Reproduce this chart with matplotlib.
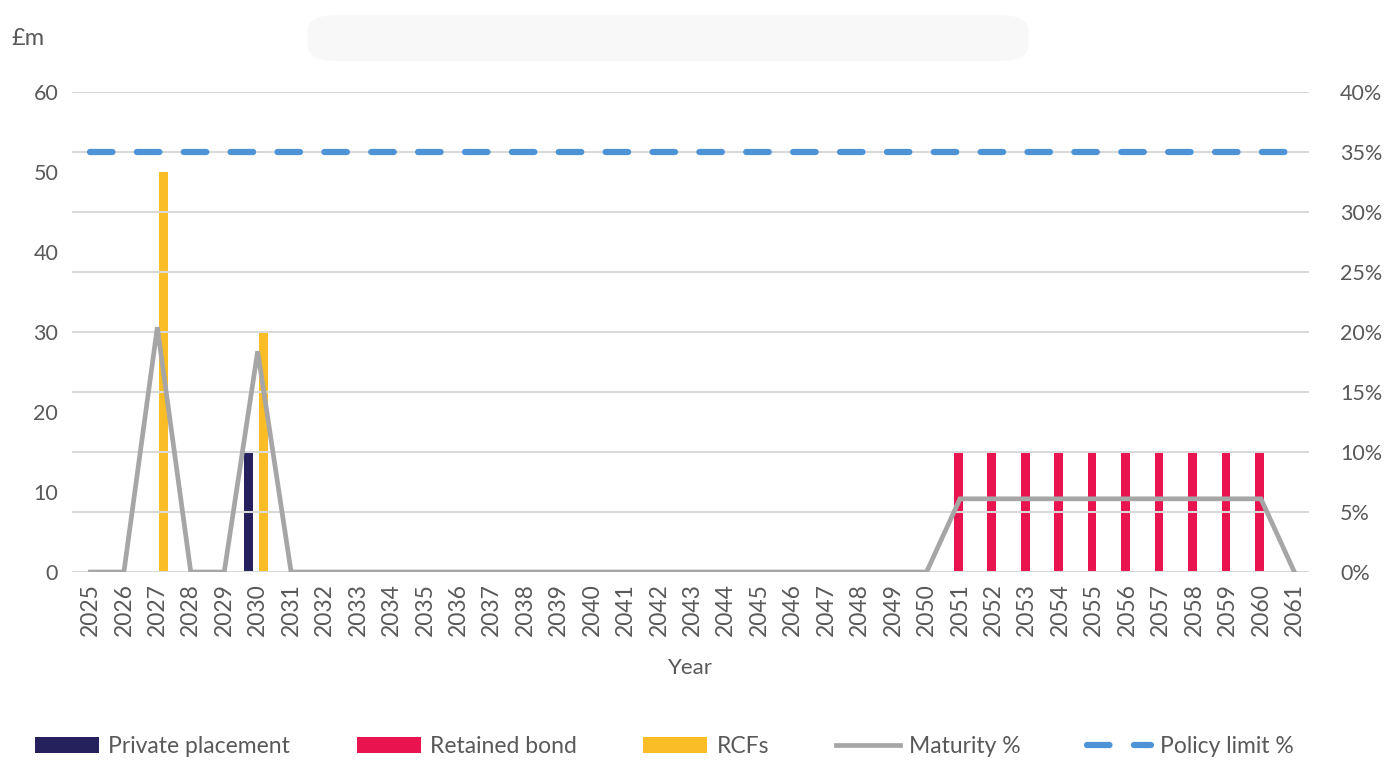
import matplotlib.pyplot as plt
from matplotlib.patches import FancyBboxPatch
from matplotlib.ticker import FuncFormatter, MultipleLocator

plt.rcParams['font.family'] = ['Lato', 'DejaVu Sans']

years = list(range(2025, 2062))
private_placement = {2030: 15}
retained_bond = {y: 15 for y in range(2051, 2061)}
rcfs = {2027: 50, 2030: 30}
maturity_pct = [0, 0, 20.4, 0, 0, 18.4, 0] + [0] * 19 + [6.1] * 10 + [0]
policy_limit = [35] * len(years)

TXT = '#595959'
C_PP = '#25215c'
C_RB = '#e8134f'
C_RCF = '#fbbd26'
C_MAT = '#a6a6a6'
C_POL = '#4e93d6'

fig = plt.figure(figsize=(13.99, 7.63), dpi=100)
ax = fig.add_axes([0.0515, 0.2503, 0.8845, 0.6291])
ax2 = ax.twinx()

idx = {y: i for i, y in enumerate(years)}
w = 0.26
series = [(private_placement, -0.28, C_PP, 'Private placement'),
          (retained_bond, -0.05, C_RB, 'Retained bond'),
          (rcfs, 0.18, C_RCF, 'RCFs')]
handles = []
for data, off, col, lab in series:
    xs = [idx[y] + off for y in data]
    h = ax.bar(xs, list(data.values()), width=w, color=col, label=lab, zorder=3)
    handles.append(h)

x = list(range(len(years)))
l1, = ax2.plot(x, [v / 100 for v in maturity_pct], color=C_MAT, lw=3.4,
               solid_joinstyle='miter', label='Maturity %', zorder=4)
l2, = ax2.plot(x, [v / 100 for v in policy_limit], color=C_POL, lw=4.5,
               dashes=(3.6, 3.9), dash_capstyle='round', label='Policy limit %', zorder=4)
handles += [l1, l2]

ax.set_ylim(0, 60)
ax2.set_ylim(0, 0.40)
ax.set_xlim(-0.55, 36.45)
ax.yaxis.set_major_locator(MultipleLocator(10))
ax2.yaxis.set_major_locator(MultipleLocator(0.05))
ax2.yaxis.set_major_formatter(FuncFormatter(lambda v, p: f'{v * 100:.0f}%'))
ax2.grid(axis='y', color='#d9d9d9', lw=1.5, zorder=0)
ax2.set_axisbelow(True)

ax.set_xticks(x)
ax.set_xticklabels([str(y) for y in years], rotation=90, color=TXT)
for a in (ax, ax2):
    for s in a.spines.values():
        s.set_visible(False)
    a.tick_params(length=0, labelsize=15.5, labelcolor=TXT)
ax.tick_params(axis='y', pad=10)
ax2.tick_params(axis='y', pad=22)
ax.tick_params(axis='x', pad=8, labelsize=16.5)

ax.set_xlabel('Year', fontsize=16, color=TXT, labelpad=16)
fig.text(0.008, 0.95, '£m', fontsize=17, color=TXT, va='center')

fig.patches.append(FancyBboxPatch((0.225, 0.925), 0.505, 0.05, boxstyle='round,pad=0.005,rounding_size=0.02',
                                  transform=fig.transFigure, facecolor='#f8f8f8', edgecolor='none'))

leg = fig.legend(handles=handles, loc='center', bbox_to_anchor=(0.475, 0.022), ncol=5, frameon=False,
                 fontsize=16.5, handlelength=2.8, handleheight=0.7, columnspacing=2.9, handletextpad=0.4)
for t in leg.get_texts():
    t.set_color(TXT)

plt.savefig('out.png', dpi=100)
